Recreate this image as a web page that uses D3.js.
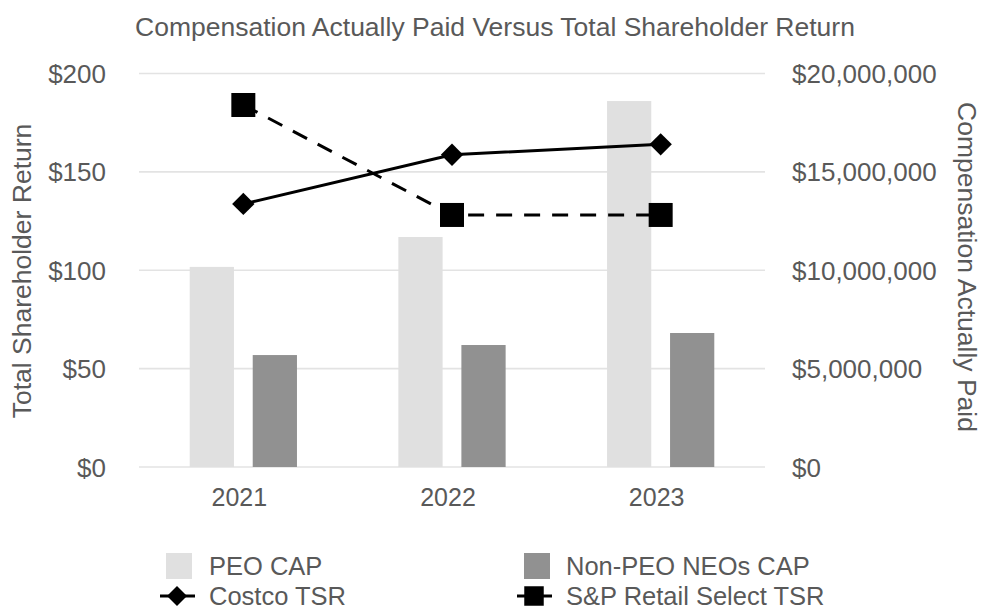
<!DOCTYPE html>
<html>
<head>
<meta charset="utf-8">
<script src="https://cdn.jsdelivr.net/npm/d3@7"></script>
<style>
  body { margin: 0; background: #fff; }
  #chart { width: 985px; height: 610px; }
  text { font-family: "Liberation Sans", Arial, sans-serif; fill: #595959; }
</style>
</head>
<body>
<div id="chart"></div>
<script>
const years = ["2021", "2022", "2023"];
const peoCap = [10170000, 11690000, 18600000];
const neoCap = [5690000, 6200000, 6810000];
const costcoTsr = [133.7, 158.7, 164.0];
const spTsr = [184.0, 128.1, 128.1];
const tsrTicks = [0, 50, 100, 150, 200];
const capTicks = [0, 5000000, 10000000, 15000000, 20000000];

const width = 985, height = 610;
const plot = { left: 139, right: 765, top: 73.5, bottom: 467 };
const ink = "#595959";

const svg = d3.select("#chart").append("svg")
    .attr("width", width)
    .attr("height", height);

const x = d3.scaleBand()
    .domain(years)
    .range([plot.left, plot.right])
    .paddingInner(0.486)
    .paddingOuter(0.243);

const xSub = d3.scaleBand()
    .domain(["peo", "neo"])
    .range([0, x.bandwidth()])
    .paddingInner(0.298);

const yTsr = d3.scaleLinear().domain([0, 200]).range([plot.bottom, plot.top]);
const yCap = d3.scaleLinear().domain([0, 20000000]).range([plot.bottom, plot.top]);

// gridlines
svg.append("g")
    .selectAll("line")
    .data(tsrTicks)
    .enter().append("line")
    .attr("x1", plot.left)
    .attr("x2", plot.right)
    .attr("y1", d => yTsr(d))
    .attr("y2", d => yTsr(d))
    .attr("stroke", "#e3e3e3")
    .attr("stroke-width", 1.6);

// bars
const bars = [
    { key: "peo", values: peoCap, color: "#e0e0e0" },
    { key: "neo", values: neoCap, color: "#919191" }
];
bars.forEach(s => {
    svg.append("g")
        .selectAll("rect")
        .data(years)
        .enter().append("rect")
        .attr("x", (d) => x(d) + xSub(s.key))
        .attr("width", xSub.bandwidth())
        .attr("y", (d, i) => yCap(s.values[i]))
        .attr("height", (d, i) => plot.bottom - yCap(s.values[i]))
        .attr("fill", s.color);
});

// left axis
const axisL = svg.append("g")
    .attr("transform", `translate(106,0)`)
    .call(d3.axisLeft(yTsr).tickValues(tsrTicks).tickSize(0).tickPadding(0)
        .tickFormat(d => "$" + d));
axisL.select(".domain").remove();
axisL.selectAll("text").style("font-size", "26px").attr("fill", ink).attr("dy", "0.35em");

// right axis
const axisR = svg.append("g")
    .attr("transform", `translate(792,0)`)
    .call(d3.axisRight(yCap).tickValues(capTicks).tickSize(0).tickPadding(0)
        .tickFormat(d => "$" + d3.format(",")(d)));
axisR.select(".domain").remove();
axisR.selectAll("text").style("font-size", "26px").attr("fill", ink).attr("dy", "0.35em");

// x axis
const axisB = svg.append("g")
    .attr("transform", `translate(-4,${plot.bottom})`)
    .call(d3.axisBottom(x).tickSize(0).tickPadding(21));
axisB.select(".domain").remove();
axisB.selectAll("text").style("font-size", "25px").attr("fill", ink);

// lines
const cx = d => x(d) + x.bandwidth() / 2;
const lines = [
    { values: costcoTsr, dash: null, symbol: d3.symbolSquare, size: 250, rotate: 45 },
    { values: spTsr, dash: "16 12", symbol: d3.symbolSquare, size: 576, rotate: 0 }
];
lines.forEach(s => {
    svg.append("path")
        .datum(years)
        .attr("fill", "none")
        .attr("stroke", "#000")
        .attr("stroke-width", 3)
        .attr("stroke-dasharray", s.dash)
        .attr("d", d3.line()
            .x(d => cx(d))
            .y((d, i) => yTsr(s.values[i]))
        );
    svg.append("g")
        .selectAll("path")
        .data(years)
        .enter().append("path")
        .attr("d", d3.symbol().type(s.symbol).size(s.size))
        .attr("transform", (d, i) => `translate(${cx(d)},${yTsr(s.values[i])}) rotate(${s.rotate})`)
        .attr("fill", "#000");
});

// title
svg.append("text")
    .attr("x", 495)
    .attr("y", 36)
    .attr("text-anchor", "middle")
    .style("font-size", "26.5px")
    .text("Compensation Actually Paid Versus Total Shareholder Return");

// axis titles
svg.append("text")
    .attr("transform", "translate(22,271) rotate(-90)")
    .attr("text-anchor", "middle")
    .attr("dy", "0.35em")
    .style("font-size", "26.5px")
    .text("Total Shareholder Return");

svg.append("text")
    .attr("transform", "translate(967,267) rotate(90)")
    .attr("text-anchor", "middle")
    .attr("dy", "0.35em")
    .style("font-size", "26.5px")
    .text("Compensation Actually Paid");

// legend
const legend = [
    { label: "PEO CAP", kind: "bar", color: "#e0e0e0", x: 166, tx: 209, y: 566 },
    { label: "Non-PEO NEOs CAP", kind: "bar", color: "#919191", x: 524, tx: 566, y: 566 },
    { label: "Costco TSR", kind: "line", symbol: d3.symbolSquare, size: 200, rotate: 45, x: 160, tx: 209, y: 596 },
    { label: "S&P Retail Select TSR", kind: "line", symbol: d3.symbolSquare, size: 380, rotate: 0, x: 517, tx: 566, y: 596 }
];
legend.forEach(l => {
    const g = svg.append("g").attr("transform", `translate(${l.x},${l.y})`);
    if (l.kind === "bar") {
        g.append("rect")
            .attr("x", 0).attr("y", -13)
            .attr("width", 26).attr("height", 26)
            .attr("fill", l.color);
    } else {
        g.append("line")
            .attr("x1", 0).attr("x2", 35)
            .attr("y1", 0).attr("y2", 0)
            .attr("stroke", "#000").attr("stroke-width", 3);
        g.append("path")
            .attr("d", d3.symbol().type(l.symbol).size(l.size))
            .attr("transform", `translate(17,0) rotate(${l.rotate})`)
            .attr("fill", "#000");
    }
    g.append("text")
        .attr("x", l.tx - l.x)
        .attr("dy", "0.35em")
        .style("font-size", "25.5px")
        .text(l.label);
});
</script>
</body>
</html>
